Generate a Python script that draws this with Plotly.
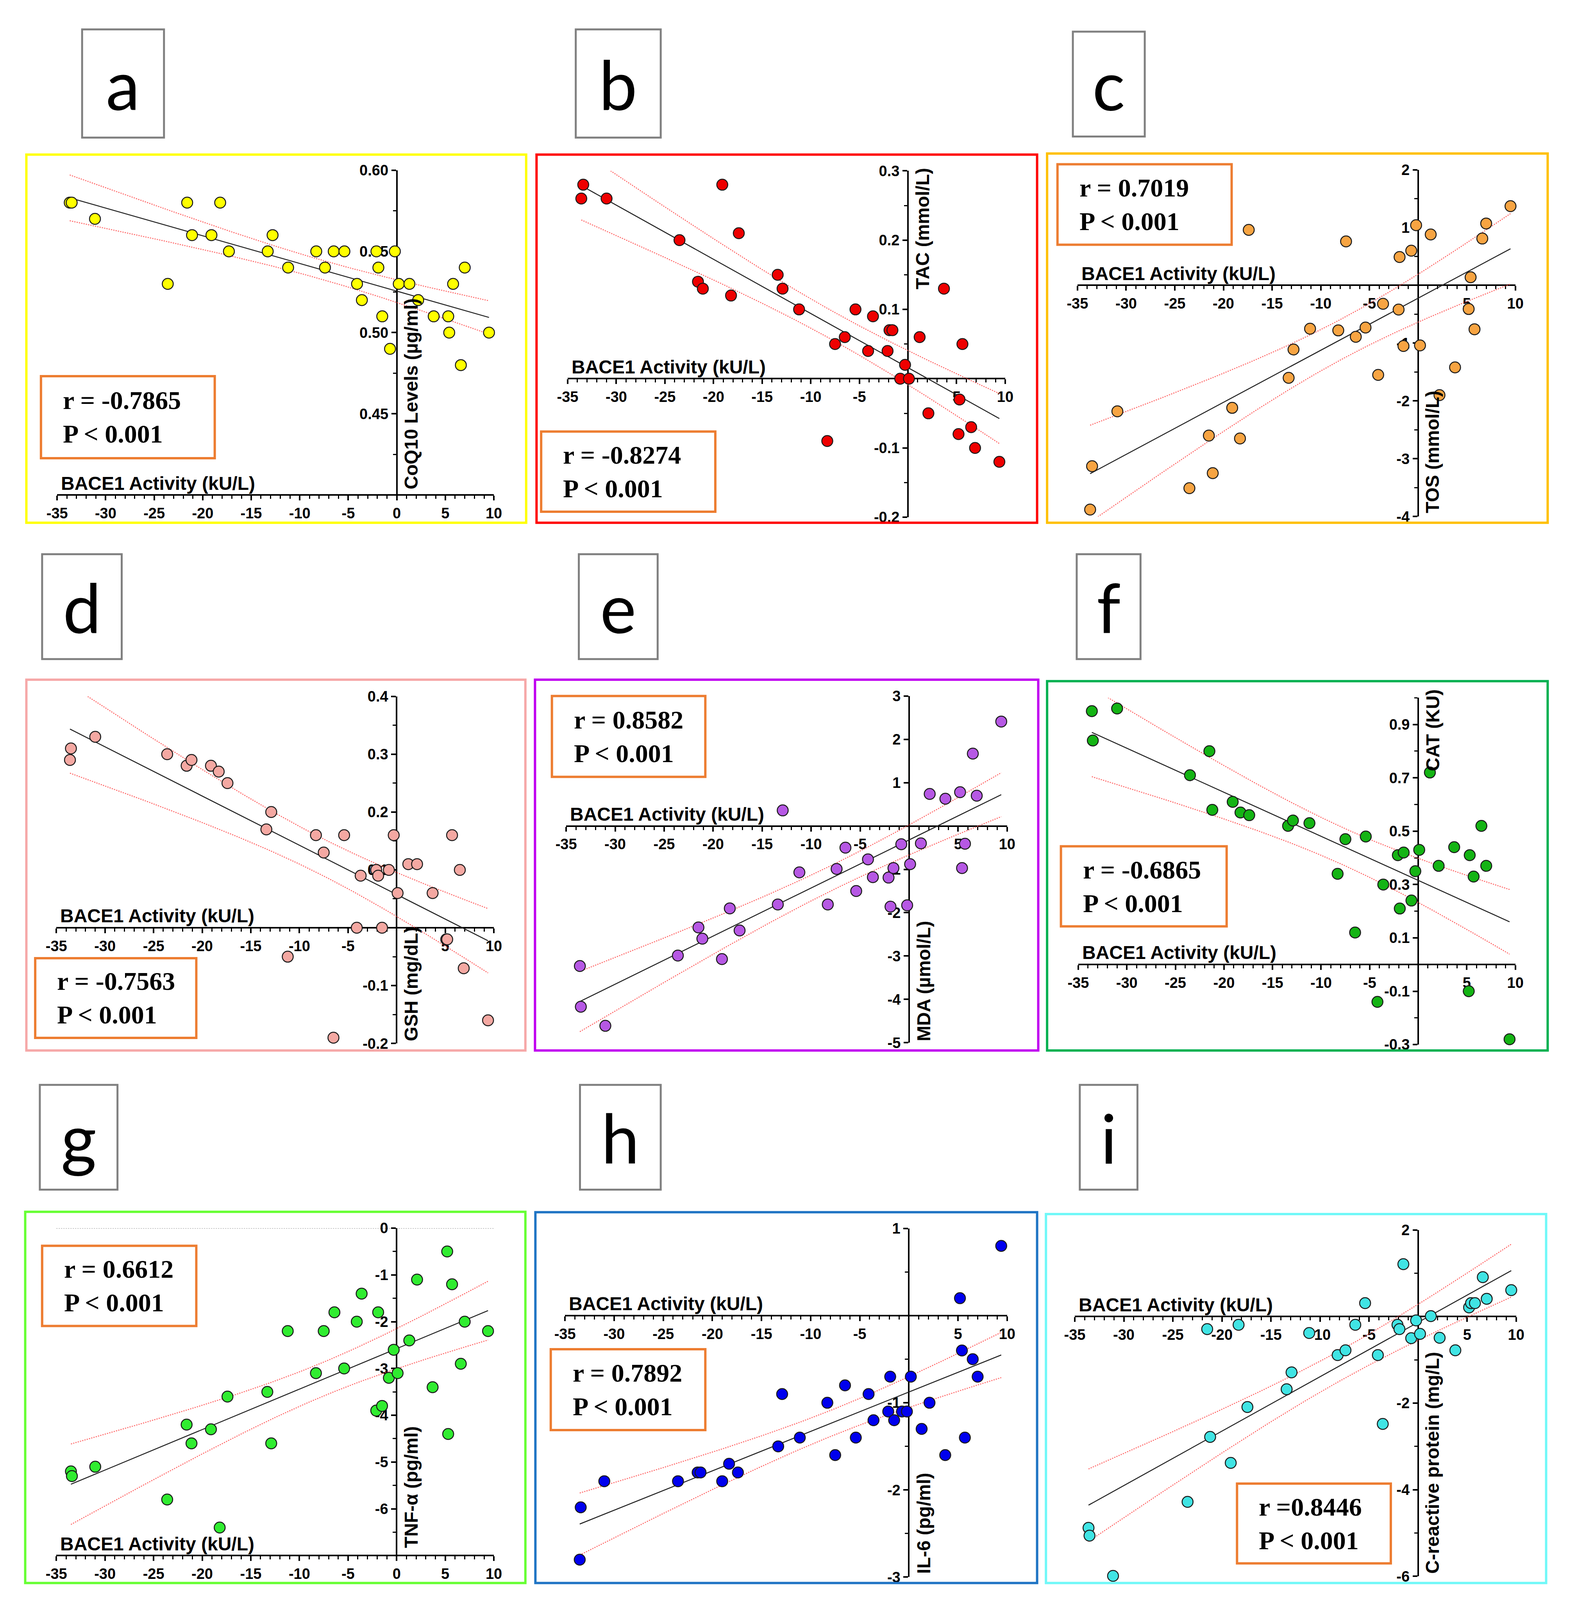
import numpy as np
import plotly.graph_objects as go

# reference canvas (positions below are measured on it); the figure itself is drawn a bit
# smaller so the whole chart fits inside the browser viewport
REF_W, REF_H = 4016, 4282
FIG_W, FIG_H = 4000, 4090

# values: BACE1 activity (x) against each marker (y)
bace_a = [-33.7, -33.5, -31.1, -23.6, -21.6, -21.1, -19.1, -18.2, -17.3, -13.3, -12.8, -11.2, -8.3, -7.4, -6.5, -5.4, -4.1,
          -3.6, -2.1, -1.9, -1.5, -0.7, -0.2, 0.2, 1.3, 2.2, 3.8, 5.3, 5.4, 5.8, 6.6, 7.0, 9.5]
coq10 = [0.58, 0.58, 0.57, 0.53, 0.58, 0.56, 0.56, 0.58, 0.55, 0.55, 0.56, 0.54, 0.55, 0.54, 0.55, 0.55, 0.53,
         0.52, 0.55, 0.54, 0.51, 0.49, 0.55, 0.53, 0.53, 0.52, 0.51, 0.51, 0.50, 0.53, 0.48, 0.54, 0.50]

bace_b = [-33.6, -33.4, -31.0, -23.5, -21.6, -21.1, -19.1, -18.2, -17.4, -13.4, -12.9, -11.2, -8.3, -7.5, -6.5, -5.4, -4.1,
          -3.6, -2.1, -1.9, -1.6, -0.8, -0.3, 0.1, 1.2, 2.1, 3.7, 5.2, 5.3, 5.6, 6.5, 6.9, 9.4]
tac = [0.26, 0.28, 0.26, 0.20, 0.14, 0.13, 0.28, 0.12, 0.21, 0.15, 0.13, 0.10, -0.09, 0.05, 0.06, 0.10, 0.04,
       0.09, 0.04, 0.07, 0.07, 0.00, 0.02, 0.00, 0.06, -0.05, 0.13, -0.08, -0.03, 0.05, -0.07, -0.10, -0.12]

bace_c = [-33.7, -33.5, -30.9, -23.5, -21.5, -21.1, -19.1, -18.3, -17.4, -13.3, -12.8, -11.1, -8.2, -7.4, -6.4, -5.4, -4.1,
          -3.6, -2.0, -1.9, -1.5, -0.7, -0.2, 0.2, 1.3, 2.2, 3.8, 5.2, 5.4, 5.8, 6.6, 7.0, 9.5]
tos = [-3.88, -3.13, -2.18, -3.51, -2.60, -3.25, -2.12, -2.65, 0.96, -1.60, -1.11, -0.75, -0.78, 0.76, -0.89, -0.73, -1.55,
       -0.32, -0.42, 0.49, -1.05, 0.60, 1.04, -1.04, 0.88, -1.90, -1.42, -0.41, 0.14, -0.76, 0.81, 1.07, 1.37]

bace_d = [-33.6, -33.5, -31.0, -23.6, -21.6, -21.1, -19.1, -18.3, -17.4, -13.4, -12.9, -11.2, -8.3, -7.5, -6.5, -5.4, -4.1,
          -3.7, -2.1, -1.9, -1.5, -0.8, -0.3, 0.1, 1.2, 2.1, 3.7, 5.1, 5.2, 5.7, 6.5, 6.9, 9.4]
gsh = [0.29, 0.31, 0.33, 0.30, 0.28, 0.29, 0.28, 0.27, 0.25, 0.17, 0.20, -0.05, 0.16, 0.13, -0.19, 0.16, 0.00,
       0.09, 0.10, 0.09, 0.00, 0.10, 0.16, 0.06, 0.11, 0.11, 0.06, -0.02, -0.02, 0.16, 0.10, -0.07, -0.16]

bace_e = [-33.6, -33.5, -31.0, -23.6, -21.5, -21.1, -19.1, -18.3, -17.3, -13.4, -12.9, -11.2, -8.3, -7.4, -6.5, -5.4, -4.2,
          -3.7, -2.1, -1.9, -1.6, -0.8, -0.2, 0.1, 1.2, 2.1, 3.7, 5.2, 5.4, 5.7, 6.5, 6.9, 9.4]
mda = [-3.23, -4.17, -4.61, -2.99, -2.34, -2.60, -3.07, -1.90, -2.41, -1.81, 0.36, -1.07, -1.81, -0.99, -0.50, -1.50, -0.77,
       -1.18, -1.19, -1.86, -0.97, -0.42, -1.83, -0.88, -0.40, 0.74, 0.63, 0.78, -0.97, -0.41, 1.67, 0.70, 2.41]

bace_f = [-33.6, -33.5, -31.0, -23.5, -21.5, -21.2, -19.1, -18.3, -17.4, -13.4, -12.9, -11.2, -8.3, -7.5, -6.5, -5.4, -4.2,
          -3.6, -2.1, -1.9, -1.5, -0.7, -0.3, 0.1, 1.2, 2.1, 3.7, 5.2, 5.3, 5.7, 6.5, 7.0, 9.4]
cat = [0.95, 0.84, 0.96, 0.71, 0.80, 0.58, 0.61, 0.57, 0.56, 0.52, 0.54, 0.53, 0.34, 0.47, 0.12, 0.48, -0.14,
       0.30, 0.41, 0.21, 0.42, 0.24, 0.35, 0.43, 0.72, 0.37, 0.44, -0.10, 0.41, 0.33, 0.52, 0.37, -0.28]

bace_g = [-33.5, -33.4, -31.0, -23.6, -21.6, -21.1, -19.1, -18.2, -17.4, -13.3, -12.9, -11.2, -8.3, -7.5, -6.4, -5.4, -4.1,
          -3.6, -2.1, -1.9, -1.5, -0.8, -0.3, 0.1, 1.3, 2.1, 3.7, 5.2, 5.3, 5.7, 6.6, 7.0, 9.4]
tnf = [-5.2, -5.3, -5.1, -5.8, -4.2, -4.6, -4.3, -6.4, -3.6, -3.5, -4.6, -2.2, -3.1, -2.2, -1.8, -3.0, -2.0,
       -1.4, -3.9, -1.8, -3.8, -3.2, -2.6, -3.1, -2.4, -1.1, -3.4, -0.5, -4.4, -1.2, -2.9, -2.0, -2.2]

bace_h = [-33.5, -33.4, -31.0, -23.5, -21.5, -21.2, -19.0, -18.3, -17.4, -13.3, -12.9, -11.1, -8.3, -7.5, -6.5, -5.4, -4.1,
          -3.6, -2.1, -1.9, -1.5, -0.7, -0.2, 0.2, 1.3, 2.1, 3.7, 5.2, 5.4, 5.7, 6.5, 7.0, 9.4]
il6 = [-2.8, -2.2, -1.9, -1.9, -1.8, -1.8, -1.9, -1.7, -1.8, -1.5, -0.9, -1.4, -1.0, -1.6, -0.8, -1.4, -0.9,
       -1.2, -1.1, -0.7, -1.2, -1.1, -1.1, -0.7, -1.3, -1.0, -1.6, 0.2, -0.4, -1.4, -0.5, -0.7, 0.8]

bace_i = [-33.6, -33.5, -31.1, -23.5, -21.5, -21.2, -19.1, -18.3, -17.4, -13.4, -12.9, -11.1, -8.2, -7.4, -6.4, -5.4, -4.1,
          -3.6, -2.1, -1.9, -1.5, -0.7, -0.2, 0.2, 1.3, 2.2, 3.8, 5.2, 5.4, 5.8, 6.6, 7.0, 9.5]
crp = [-4.88, -5.06, -5.99, -4.28, -0.29, -2.78, -3.38, -0.19, -2.09, -1.68, -1.29, -0.38, -0.89, -0.78, -0.19, 0.31, -0.89,
       -2.48, -0.19, -0.29, 1.21, -0.50, -0.09, -0.40, 0.01, -0.49, -0.78, 0.21, 0.31, 0.31, 0.91, 0.41, 0.61]

letters = ["a", "b", "c", "d", "e", "f", "g", "h", "i"]
stats = ["r = -0.7865", "r = -0.8274", "r = 0.7019", "r = -0.7563", "r = 0.8582",
         "r = -0.6865", "r = 0.6612", "r = 0.7892", "r =0.8446"]
y_titles = ["CoQ10 Levels (µg/ml)", "TAC (mmol/L)", "TOS (mmol/L)", "GSH (mg/dL)", "MDA (µmol/L)",
            "CAT (KU)", "TNF-α (pg/ml)", "IL-6 (pg/ml)", "C-reactive protein (mg/L)"]
x_title = "BACE1 Activity (kU/L)"

x_ticks = [-35, -30, -25, -20, -15, -10, -5, 0, 5, 10]
y_ranges = [(0.40, 0.60), (-0.2, 0.3), (-4, 2), (-0.2, 0.4), (-5, 3), (-0.3, 1.0), (-7, 0), (-3, 1), (-6, 2)]
y_cross = [0.40, 0, 0, 0, 0, 0, -7, 0, 0]
y_major = [[0.45, 0.50, 0.55, 0.60], [-0.2, -0.1, 0.1, 0.2, 0.3], [-4, -3, -2, -1, 1, 2],
           [-0.2, -0.1, 0.1, 0.2, 0.3, 0.4], [-5, -4, -3, -2, -1, 1, 2, 3],
           [-0.3, -0.1, 0.1, 0.3, 0.5, 0.7, 0.9], [-6, -5, -4, -3, -2, -1, 0], [-3, -2, -1, 1], [-6, -4, -2, 2]]
y_minor = [[0.425, 0.475, 0.525, 0.575], [-0.15, -0.05, 0.05, 0.15, 0.25], [-3.5, -2.5, -1.5, -0.5, 0.5, 1.5],
           [-0.15, -0.05, 0.05, 0.15, 0.25, 0.35], [],
           [-0.2, 0.2, 0.4, 0.6, 0.8, 1.0], [-6.5, -5.5, -4.5, -3.5, -2.5, -1.5, -0.5],
           [-2.5, -1.5, -0.5, 0.5], [-5, -3, -1, 1]]
y_fmt = ["{:.2f}", "{:g}", "{:g}", "{:g}", "{:g}", "{:g}", "{:g}", "{:g}", "{:g}"]

series = [(bace_a, coq10), (bace_b, tac), (bace_c, tos), (bace_d, gsh), (bace_e, mda),
          (bace_f, cat), (bace_g, tnf), (bace_h, il6), (bace_i, crp)]

# layout, in reference pixels
area = [(113, 1249, 430, 1310), (1441, 2579, 432, 1370), (2767, 3906, 429, 1368),
        (111, 1249, 1855, 2795), (1437, 2584, 1854, 2793), (2769, 3906, 1859, 2798),
        (111, 1249, 3295, 4182), (1434, 2584, 3296, 4240), (2760, 3908, 3300, 4238)]
frames = [(33, 1333, 388, 1385), (1360, 2662, 388, 1385), (2688, 3990, 385, 1385),
          (33, 1331, 1810, 2814), (1356, 2665, 1810, 2814), (2688, 3990, 1814, 2814),
          (30, 1331, 3251, 4256), (1357, 2662, 3252, 4256), (2685, 3986, 3257, 4256)]
letter_boxes = [(178, 391, 49, 342), (1462, 1683, 49, 342), (2755, 2942, 55, 339),
                (74, 281, 1470, 1754), (1470, 1675, 1470, 1754), (2765, 2931, 1470, 1754),
                (68, 270, 2907, 3191), (1473, 1683, 2907, 3191), (2773, 2923, 2907, 3191)]
stat_boxes = [(71, 523, 988, 1210), (1372, 1825, 1138, 1355), (2715, 3168, 414, 632),
              (56, 475, 2564, 2780), (1400, 1799, 1854, 2073), (2724, 3155, 2261, 2478),
              (74, 475, 3343, 3560), (1397, 1799, 3623, 3842), (3182, 3582, 3987, 4203)]
ytitle_pos = [("bottom", 1297), ("top", 422), ("bottom", 1361), ("bottom", 2791), ("bottom", 2791),
              ("top", 1834), ("bottom", 4164), ("bottom", 4233), ("bottom", 4233)]

frame_colors = ["#FFFF00", "#FF0000", "#FFC000", "#F6A8A8", "#C000F0", "#00B050", "#66FF33", "#1F74C4", "#70F8F8"]
marker_colors = ["#FFFF00", "#EE0000", "#F7A442", "#F4A8A2", "#B658E4", "#14B414", "#30EC30", "#0000EE", "#40E4E4"]

SANS = "Liberation Sans, Arial"
SERIF = "Liberation Serif, Times New Roman"


def fx(px):
    return px / REF_W


def fy(py):
    return 1 - py / REF_H


def fit_band(x, y, t=2.04, n_pts=80):
    x = np.asarray(x, float)
    y = np.asarray(y, float)
    n = len(x)
    b, a = np.polyfit(x, y, 1)
    xs = np.linspace(x.min(), x.max(), n_pts)
    yhat = a + b * xs
    s = np.sqrt(((y - (a + b * x)) ** 2).sum() / (n - 2))
    sxx = ((x - x.mean()) ** 2).sum()
    half = t * s * np.sqrt(1 / n + (xs - x.mean()) ** 2 / sxx)
    return xs, yhat, yhat - half, yhat + half


fig = go.Figure()
shapes = []
annotations = []
axes = {}

for k in range(9):
    n = k + 1
    xr = "x" if n == 1 else f"x{n}"
    yr = "y" if n == 1 else f"y{n}"
    bx, by = series[k]
    left, right, top, bottom = area[k]
    ymin, ymax = y_ranges[k]

    xs, yhat, lo, hi = fit_band(bx, by)
    for band in (hi, lo):
        fig.add_trace(go.Scatter(x=xs, y=band, mode="lines", xaxis=xr, yaxis=yr,
                                 line=dict(color="rgba(255,70,70,0.85)", width=2.5, dash="dot"),
                                 hoverinfo="skip"))
    fig.add_trace(go.Scatter(x=xs, y=yhat, mode="lines", xaxis=xr, yaxis=yr,
                             line=dict(color="#222222", width=2.5), hoverinfo="skip"))
    fig.add_trace(go.Scatter(x=bx, y=by, mode="markers", xaxis=xr, yaxis=yr, cliponaxis=False,
                             marker=dict(size=28, color=marker_colors[k],
                                         line=dict(color="#1a1a1a", width=2.5))))

    # axes cross: x axis at y_cross, y axis at x = 0
    x_axis_py = bottom - (y_cross[k] - ymin) / (ymax - ymin) * (bottom - top)
    y_axis_px = left + (0 - x_ticks[0]) / (x_ticks[-1] - x_ticks[0]) * (right - left)
    xt = [v for v in x_ticks if v != 0 or y_cross[k] == ymin]
    axes["xaxis" if n == 1 else f"xaxis{n}"] = dict(
        domain=[fx(left), fx(right)], range=[x_ticks[0], x_ticks[-1]], anchor="free",
        position=fy(x_axis_py), showline=True, linecolor="black", linewidth=4,
        showgrid=False, zeroline=False, ticks="outside", ticklen=12, tickwidth=4, tickcolor="black",
        tickmode="array", tickvals=xt, ticktext=[f"{v:g}" for v in xt],
        minor=dict(tickvals=[v for v in range(-35, 11) if v % 5], ticks="outside", ticklen=8,
                   tickwidth=3, tickcolor="black", showgrid=False),
        tickfont=dict(family=SANS, size=38, color="black", weight="bold"), layer="below traces")
    axes["yaxis" if n == 1 else f"yaxis{n}"] = dict(
        domain=[fy(bottom), fy(top)], range=[ymin, ymax], anchor="free",
        position=fx(y_axis_px), showline=True, linecolor="black", linewidth=4,
        showgrid=False, zeroline=False, ticks="outside", ticklen=12, tickwidth=4, tickcolor="black",
        tickmode="array", tickvals=y_major[k], ticktext=[y_fmt[k].format(v) for v in y_major[k]],
        minor=dict(tickvals=y_minor[k], ticks="outside", ticklen=8, tickwidth=3,
                   tickcolor="black", showgrid=False),
        tickfont=dict(family=SANS, size=38, color="black", weight="bold"), layer="below traces")

    # panel frame
    fl, fr, ft, fb = frames[k]
    shapes.append(dict(type="rect", xref="paper", yref="paper", x0=fx(fl), x1=fx(fr), y0=fy(fb), y1=fy(ft),
                       line=dict(color=frame_colors[k], width=6)))
    # letter box
    ll, lr, lt, lb = letter_boxes[k]
    shapes.append(dict(type="rect", xref="paper", yref="paper", x0=fx(ll), x1=fx(lr), y0=fy(lb), y1=fy(lt),
                       line=dict(color="#808080", width=5)))
    annotations.append(dict(text=letters[k], xref="paper", yref="paper", x=fx((ll + lr) / 2),
                            y=fy((lt + lb) / 2), xanchor="center", yanchor="middle", showarrow=False,
                            font=dict(family="Lato", size=175, color="black")))
    # statistics box
    sl, sr, st, sb = stat_boxes[k]
    shapes.append(dict(type="rect", xref="paper", yref="paper", x0=fx(sl), x1=fx(sr), y0=fy(sb), y1=fy(st),
                       line=dict(color="#ED7D31", width=6)))
    annotations.append(dict(text=f"<b>{stats[k]}</b><br><b>P &lt; 0.001</b>", xref="paper", yref="paper",
                            x=fx(sl + 55), y=fy((st + sb) / 2), xanchor="left", yanchor="middle",
                            align="left", showarrow=False,
                            font=dict(family=SERIF, size=66, color="black")))
    # axis titles
    annotations.append(dict(text=f"<b>{x_title}</b>", xref="paper", yref="paper", x=fx(left + 8),
                            y=fy(x_axis_py - 32), xanchor="left", yanchor="middle", showarrow=False,
                            font=dict(family=SANS, size=48, color="black")))
    side, ypix = ytitle_pos[k]
    annotations.append(dict(text=f"<b>{y_titles[k]}</b>", xref="paper", yref="paper", x=fx(y_axis_px + 38),
                            y=fy(ypix), xanchor="center", yanchor=side, textangle=-90, showarrow=False,
                            font=dict(family=SANS, size=48, color="black")))

# dotted reference line at 0 in panel g
shapes.append(dict(type="line", xref="x7 domain", yref="y7", x0=0, x1=1, y0=0, y1=0,
                   line=dict(color="#B0B0B0", width=3, dash="dot"), layer="below"))

fig.update_layout(width=FIG_W, height=FIG_H, margin=dict(l=0, r=0, t=0, b=0), showlegend=False,
                  paper_bgcolor="white", plot_bgcolor="rgba(0,0,0,0)",
                  shapes=shapes, annotations=annotations, **axes)

fig.write_html("out.html")
